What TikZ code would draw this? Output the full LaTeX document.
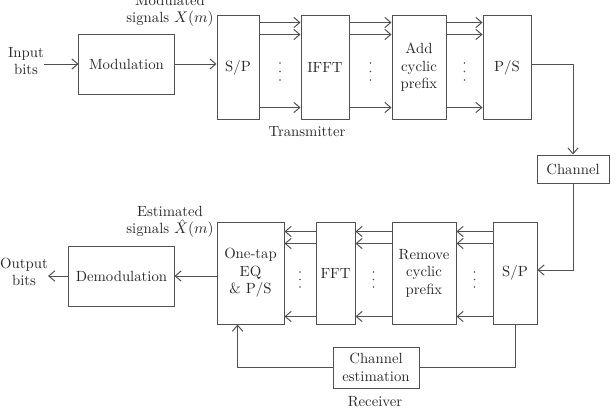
\documentclass[tikz,border=0pt]{standalone}
\usetikzlibrary{arrows.meta,calc,positioning}
\definecolor{lineGray}{RGB}{80,80,80}
\definecolor{textGray}{RGB}{40,40,40}
\newcommand{\blkfont}{\fontsize{10.5}{12.5}\selectfont}
\tikzset{
    % processing blocks
    blk/.style={draw=lineGray, line width=0.7pt, inner sep=0pt,
        align=center, font=\blkfont, text=textGray},
    % signal flow arrows
    flow/.style={-{Straight Barb[length=1.5mm,width=2.6mm]}, draw=lineGray, line width=0.7pt},
    wire/.style={draw=lineGray, line width=0.7pt},
    % free labels
    lbl/.style={align=center, font=\blkfont, text=textGray, inner sep=0pt},
}

\begin{document}
\begin{tikzpicture}[x=0.025cm, y=-0.025cm]
  \useasboundingbox (0,0) rectangle (616,408);

  % transmitter
  \node[lbl] (inp) at (26,61) {Input\\bits};
  \node[blk,minimum width=2.375cm,minimum height=1.5cm] (mod) at (126.5,64) {Modulation};
  \node[lbl] (modsig) at (170,11) {Modulated\\signals $X(m)$};
  \node[blk,minimum width=1.05cm,minimum height=2.575cm] (sptx) at (238,67.5) {S/P};
  \node[blk,minimum width=1.2cm,minimum height=2.575cm] (ifft) at (325,67.5) {IFFT};
  \node[blk,minimum width=1.35cm,minimum height=2.575cm] (acp) at (419,67.5) {Add\\cyclic\\prefix};
  \node[blk,minimum width=1.2cm,minimum height=2.575cm] (ps) at (507,67.5) {P/S};
  \node[lbl] (tx) at (307,132) {Transmitter};

  % channel
  \node[blk,minimum width=1.8cm,minimum height=0.7cm] (ch) at (573,169) {Channel};

  % receiver
  \node[blk,minimum width=1.1cm,minimum height=2.55cm] (sprx) at (515,273) {S/P};
  \node[blk,minimum width=1.6cm,minimum height=2.55cm] (rcp) at (424,273) {Remove\\cyclic\\prefix};
  \node[blk,minimum width=0.975cm,minimum height=2.55cm] (fft) at (335.5,273) {FFT};
  \node[blk,minimum width=1.675cm,minimum height=2.55cm] (onetap) at (250.5,273) {One-tap\\EQ\\\& P/S};
  \node[lbl] (estsig) at (170,222) {Estimated\\signals $\hat{X}(m)$};
  \node[blk,minimum width=2.625cm,minimum height=1.5cm] (demod) at (121.5,276) {Demodulation};
  \node[lbl] (outp) at (24,272) {Output\\bits};
  \node[blk,minimum width=2.15cm,minimum height=1.025cm] (est) at (376,367.5) {Channel\\estimation};
  \node[lbl] (rx) at (375,402) {Receiver};

  % transmitter connections
  \draw[flow] (inp.east |- mod.west) -- (mod.west);
  \draw[flow] (mod.east) -- (mod.east -| sptx.west);
  \foreach \a/\b in {sptx/ifft, ifft/acp, acp/ps}
    \foreach \d in {7,19,92}
      \draw[flow] ($(\a.north east)+(0,\d)$) -- ($(\b.north west)+(0,\d)$);
  \draw[flow] ($(ps.east)+(0,-3.5)$) -| (ch.north);
  \draw[flow] (ch.south) |- ($(sprx.east)+(0,-3)$);

  % receiver connections
  \foreach \a/\b in {sprx/rcp, rcp/fft, fft/onetap}
    \foreach \d in {10,22,95}
      \draw[flow] ($(\a.north west)+(0,\d)$) -- ($(\b.north east)+(0,\d)$);
  \draw[flow] (onetap.west |- demod.east) -- (demod.east);
  \draw[flow] (demod.west) -- (outp.east |- demod.west);
  \draw[wire] (sprx.south) |- (est.east);
  \draw[flow] (est.west) -| ($(onetap.south west)!0.31!(onetap.south east)$);

  % parallel dots
  \foreach \x in {280,370.5,464.5}
    \foreach \y in {63,71.5,80}
      \fill[lineGray] (\x,\y) circle (0.6pt);
  \foreach \x in {300,373.5,474.5}
    \foreach \y in {272,279.5,287}
      \fill[lineGray] (\x,\y) circle (0.6pt);
\end{tikzpicture}
\end{document}
